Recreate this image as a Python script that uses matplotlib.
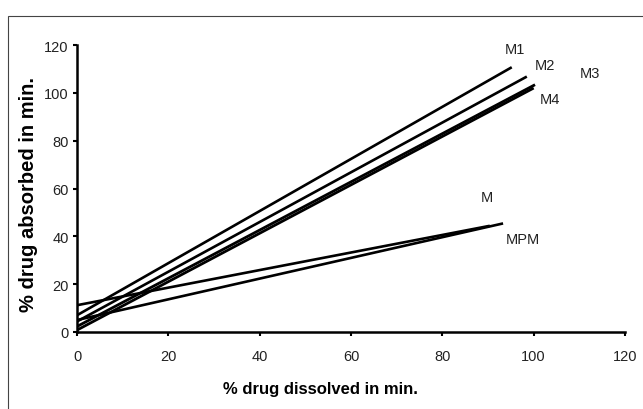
import matplotlib.pyplot as plt
from matplotlib.patches import Rectangle

plt.rcParams['font.family'] = ['Liberation Sans', 'DejaVu Sans']

# --- Data (start at x=0, end point) ---
series = ["M1", "M2", "M3", "M4", "M", "MPM"]
x_start = [0, 0, 0, 0, 0, 0]
y_start = [7.0, 4.4, 2.3, 0.8, 11.2, 5.0]
x_end = [95.2, 98.5, 100.3, 100.0, 90.4, 93.3]
y_end = [110.7, 106.8, 103.4, 102.0, 44.4, 45.4]
widths = [1.9, 1.9, 2.0, 2.0, 1.9, 1.9]

# label positions (data coords)
label_x = [96.0, 102.5, 112.3, 103.6, 89.8, 97.7]
label_y = [118.5, 111.7, 108.4, 97.5, 56.5, 38.9]

xticks = [0, 20, 40, 60, 80, 100, 120]
yticks = [0, 20, 40, 60, 80, 100, 120]

W, H = 643, 410
fig = plt.figure(figsize=(W / 100, H / 100), dpi=100)
ax = fig.add_axes([77 / W, 1 - 333 / H, 548 / W, 287 / H])

for xs, ys, xe, ye, lw in zip(x_start, y_start, x_end, y_end, widths):
    ax.plot([xs, xe], [ys, ye], color="black", lw=lw, solid_capstyle="butt")

for name, lx, ly in zip(series, label_x, label_y):
    ax.text(lx, ly, name, fontsize=10.5, ha="center", va="center", color="#222222")

ax.set_xlim(0, 120)
ax.set_ylim(0, 120)
ax.set_xticks(xticks)
ax.set_yticks(yticks)
ax.tick_params(direction="out", length=3, width=1.5, labelsize=10.5,
               colors="black", labelcolor="#222222")
ax.tick_params(axis="x", pad=9)
ax.tick_params(axis="y", pad=3)
for side in ["top", "right"]:
    ax.spines[side].set_visible(False)
for side in ["left", "bottom"]:
    ax.spines[side].set_linewidth(1.8)

# axis titles placed where they sit in the reference
fig.text(320 / W, 1 - 390 / H, "% drug dissolved in min.", fontsize=12,
         fontweight="bold", ha="center", va="center")
fig.text(29 / W, 1 - 195 / H, "% drug absorbed in min.", fontsize=14.5,
         fontweight="bold", ha="center", va="center", rotation=90)

# outer frame, cropped at right and bottom in the reference
fig.patches.append(Rectangle((8 / W, -0.1), 1.2, 1 - 17 / H + 0.1,
                             transform=fig.transFigure, fill=False,
                             edgecolor="#444444", lw=0.8))

fig.savefig("out.png", dpi=100)
